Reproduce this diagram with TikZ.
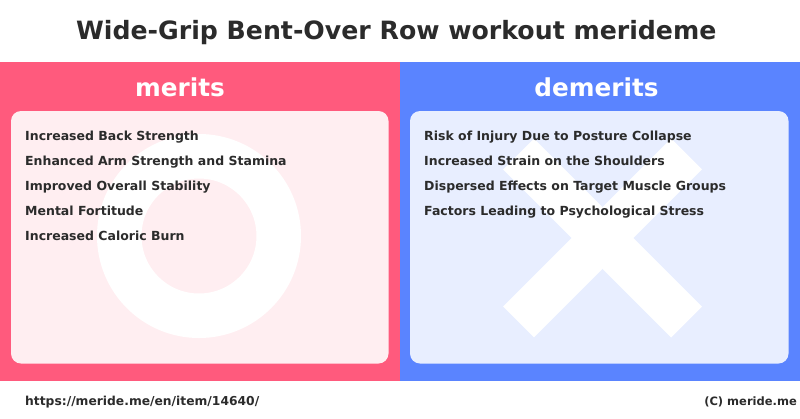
\documentclass[tikz,border=0pt]{standalone}
\usepackage{fontspec}
\setmainfont{DejaVu Sans}
\definecolor{redp}{HTML}{FF5A7D}
\definecolor{redl}{HTML}{FFEEF1}
\definecolor{bluep}{HTML}{5A84FF}
\definecolor{bluel}{HTML}{E8EEFF}
\definecolor{ink}{HTML}{2B2B2B}
\tikzset{x=1pt,y=-1pt,
 item/.style={anchor=base west,inner sep=0pt,text=ink,font=\bfseries\fontsize{12.5}{14}\selectfont},
 head/.style={anchor=base,text=white,inner sep=0pt,font=\bfseries\fontsize{24.7}{28}\selectfont},
 foot/.style={inner sep=0pt,text=ink,font=\bfseries\fontsize{12.3}{14}\selectfont},
 footr/.style={inner sep=0pt,text=ink,font=\bfseries\fontsize{11.5}{14}\selectfont}}
\begin{document}
\begin{tikzpicture}
\useasboundingbox (0,0) rectangle (800,418);
\fill[white] (0,0) rectangle (800,418);
\fill[redp] (0,62) rectangle (400,381);
\fill[bluep] (400,62) rectangle (800,381);
\fill[redl,rounded corners=10pt] (11,111) rectangle (388.5,363.5);
\fill[bluel,rounded corners=10pt] (410,111) rectangle (788.5,363.5);
\draw[white,line width=44.5pt] (199,236) circle (79.75);
\draw[white,line width=43.8pt] (518.5,322) -- (686.5,154);
\draw[white,line width=43.8pt] (518.5,154) -- (686.5,322);
\node[anchor=base,inner sep=0pt,text=ink,font=\bfseries\fontsize{25.2}{30}\selectfont] (title) at (396.3,39) {Wide-Grip Bent-Over Row workout merideme};
\node[head] (m) at (180,96) {merits};
\node[head] (d) at (596.5,96) {demerits};
\node[item] (m1) at (25,140) {Increased Back Strength};
\node[item] (m2) at (25,165) {Enhanced Arm Strength and Stamina};
\node[item] (m3) at (25,190) {Improved Overall Stability};
\node[item] (m4) at (25,215) {Mental Fortitude};
\node[item] (m5) at (25,240) {Increased Caloric Burn};
\node[item] (d1) at (424,140) {Risk of Injury Due to Posture Collapse};
\node[item] (d2) at (424,165) {Increased Strain on the Shoulders};
\node[item] (d3) at (424,190) {Dispersed Effects on Target Muscle Groups};
\node[item] (d4) at (424,215) {Factors Leading to Psychological Stress};
\node[foot,anchor=base west] (u) at (25,405) {https://meride.me/en/item/14640/};
\node[footr,anchor=base east] (c) at (797,405) {(C) meride.me};
\end{tikzpicture}
\end{document}
